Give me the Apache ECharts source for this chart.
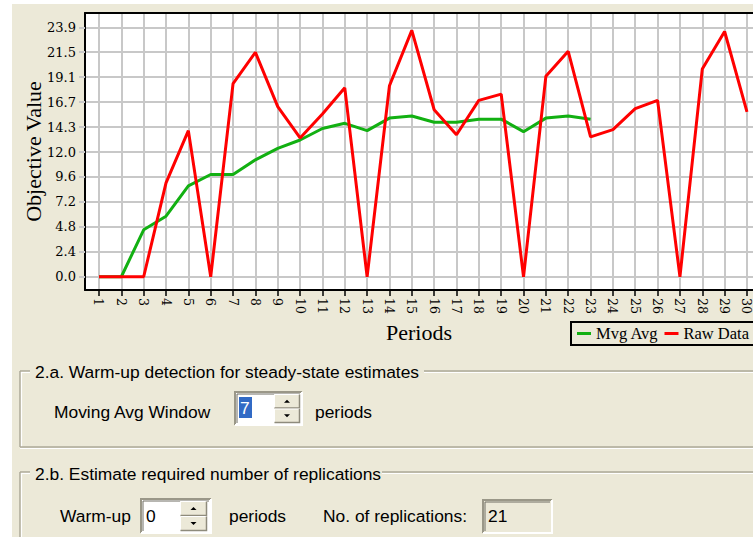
<!DOCTYPE html>
<html>
<head>
<meta charset="utf-8">
<title>Objective Value by Period</title>
<script src="https://cdn.jsdelivr.net/npm/echarts@6/dist/echarts.min.js"></script>
<style>
  html, body { margin: 0; padding: 0; background: #ECE9D8; }
  #chart { width: 753px; height: 537px; }
</style>
</head>
<body>
<div id="chart"></div>
<script>
// Period numbers on the horizontal axis
const periods = [1, 2, 3, 4, 5, 6, 7, 8, 9, 10, 11, 12, 13, 14, 15,
                 16, 17, 18, 19, 20, 21, 22, 23, 24, 25, 26, 27, 28, 29, 30];

// Raw objective value observed in each period
const rawData = [0, 0, 0, 9.0, 14.0, 0, 18.5, 21.5, 16.3, 13.3,
                 15.6, 18.1, 0, 18.3, 23.6, 16.0, 13.6, 16.9, 17.5, 0,
                 19.2, 21.6, 13.4, 14.1, 16.1, 16.9, 0, 19.9, 23.5, 15.8];

// Moving average (window of 7 periods), available up to period 23
const mvgAvg = [0, 0, 4.5, 5.8, 8.7, 9.8, 9.8, 11.2, 12.3, 13.1,
                14.2, 14.7, 14.0, 15.2, 15.4, 14.8, 14.8, 15.1, 15.1, 13.9,
                15.2, 15.4, 15.1];

// Value-axis ticks and their printed labels
const yTickValues = [0, 2.39, 4.78, 7.17, 9.56, 11.95, 14.34, 16.73, 19.12, 21.51, 23.9];
const yTickLabels = ['0.0', '2.4', '4.8', '7.2', '9.6', '12.0', '14.3', '16.7', '19.1', '21.5', '23.9'];

const seriesNames = ['Mvg Avg', 'Raw Data'];

const mvgPoints = mvgAvg.map((v, i) => [periods[i], v]);
const rawPoints = rawData.map((v, i) => [periods[i], v]);

const UI_FONT = 'Liberation Sans';
const CHART_FONT = 'Liberation Serif';
const TICK_FONT = 'DejaVu Serif';
const FACE = '#ECE9D8';

// ---------- dialog controls below the chart ----------
function line(x1, y1, x2, y2, color, w) {
  return { type: 'line', silent: true, z: 10,
    shape: { x1, y1, x2, y2 }, style: { stroke: color, lineWidth: w } };
}
// etched group-box edge: dark line with a white highlight next to it
function etchedH(x1, x2, y) {
  return [line(x1, y, x2, y, '#ACA899', 1.5), line(x1, y + 1.5, x2, y + 1.5, '#FFFFFF', 1.2)];
}
function etchedV(x, y1, y2) {
  return [line(x, y1, x, y2, '#ACA899', 1.5), line(x + 1.5, y1 + 1.5, x + 1.5, y2, '#FFFFFF', 1.2)];
}
function label(text, x, y, opts) {
  return Object.assign({ type: 'text', silent: true, z: 12, x, y,
    style: { text, fill: '#000', font: '17.4px "' + UI_FONT + '"',
             textVerticalAlign: 'middle', textAlign: 'left' } }, opts || {});
}
function sunkenBox(x1, y1, x2, y2, fill) {
  return [
    { type: 'rect', silent: true, z: 10, shape: { x: x1, y: y1, width: x2 - x1, height: y2 - y1 },
      style: { fill } },
    { type: 'polyline', silent: true, z: 11, shape: { points: [[x1, y2], [x1, y1], [x2, y1]] },
      style: { stroke: '#9A9788', lineWidth: 2, fill: null } },
    { type: 'polyline', silent: true, z: 11, shape: { points: [[x1 + 2, y2 - 2], [x1 + 2, y1 + 2], [x2 - 2, y1 + 2]] },
      style: { stroke: '#716F64', lineWidth: 1, fill: null } },
    { type: 'polyline', silent: true, z: 11, shape: { points: [[x1, y2], [x2, y2], [x2, y1]] },
      style: { stroke: '#FFFFFF', lineWidth: 2, fill: null } }
  ];
}
function spinButtons(x1, y1, x2, y2) {
  const ym = (y1 + y2) / 2, cx = (x1 + x2) / 2;
  const out = [];
  [[y1, ym], [ym, y2]].forEach(([a, b]) => {
    out.push({ type: 'rect', silent: true, z: 12, shape: { x: x1, y: a, width: x2 - x1, height: b - a },
      style: { fill: FACE } });
    out.push({ type: 'polyline', silent: true, z: 13, shape: { points: [[x1 + 0.5, b - 0.5], [x1 + 0.5, a + 0.5], [x2 - 0.5, a + 0.5]] },
      style: { stroke: '#FFFFFF', lineWidth: 1, fill: null } });
    out.push({ type: 'polyline', silent: true, z: 13, shape: { points: [[x1 + 0.5, b - 0.5], [x2 - 0.5, b - 0.5], [x2 - 0.5, a + 0.5]] },
      style: { stroke: '#8E8B7C', lineWidth: 1.5, fill: null } });
  });
  const cu = (y1 + ym) / 2, cd = (ym + y2) / 2;
  out.push({ type: 'polygon', silent: true, z: 14,
    shape: { points: [[cx - 3, cu + 1.5], [cx + 3, cu + 1.5], [cx, cu - 1.5]] }, style: { fill: '#000' } });
  out.push({ type: 'polygon', silent: true, z: 14,
    shape: { points: [[cx - 3, cd - 1.5], [cx + 3, cd - 1.5], [cx, cd + 1.5]] }, style: { fill: '#000' } });
  return out;
}

const graphics = [].concat(
  // light window frame strips
  [{ type: 'rect', silent: true, z: 1, shape: { x: 0, y: 0, width: 753, height: 4 }, style: { fill: '#FFFFFF' } },
   { type: 'rect', silent: true, z: 1, shape: { x: 0, y: 0, width: 12, height: 537 }, style: { fill: '#FFFFFF' } }],
  // group box 2.a
  etchedH(20, 30, 371), etchedH(424, 753, 371), etchedV(20, 371, 447), etchedH(20, 753, 447),
  [label('2.a. Warm-up detection for steady-state estimates', 35, 372),
   label('Moving Avg Window', 54, 412)],
  sunkenBox(235, 392, 302, 425, '#FFFFFF'),
  [{ type: 'rect', silent: true, z: 12, shape: { x: 239, y: 397, width: 13, height: 21 }, style: { fill: '#316AC5' } },
   label('7', 240, 408, { z: 13 })],
  spinButtons(274, 394, 300, 423),
  [label('periods', 315, 412)],
  // group box 2.b
  etchedH(20, 30, 472), etchedH(382, 753, 472), etchedV(20, 472, 537),
  [label('2.b. Estimate required number of replications', 35, 474),
   label('Warm-up', 60, 516)],
  sunkenBox(141, 499, 211, 533, '#FFFFFF'),
  [label('0', 146, 516)],
  spinButtons(180, 501, 207, 531),
  [label('periods', 229, 516),
   label('No. of replications:', 323, 516)],
  sunkenBox(483, 500, 552, 533, FACE),
  [label('21', 488, 516)]
);
// the highlighted digit is white on the selection colour
graphics.forEach(g => { if (g.type === 'text' && g.style.text === '7') g.style.fill = '#FFFFFF'; });

const X_MIN = 0.374, X_MAX = 30.27;
const Y_MIN = -1.27, Y_MAX = 25.27;

const option = {
  animation: false,
  backgroundColor: FACE,
  grid: {
    left: 85, top: 13, right: 0, bottom: 247,
    show: true, backgroundColor: '#FFFFFF', borderWidth: 0,
    containLabel: false, outerBoundsMode: 'none'
  },
  legend: {
    data: seriesNames,
    left: 571, top: 322, width: 240,
    padding: [3, 14, 3, 6],
    itemGap: 6, itemWidth: 14, itemHeight: 3,
    icon: 'rect',
    borderColor: '#000', borderWidth: 2,
    backgroundColor: FACE,
    textStyle: { fontFamily: CHART_FONT, fontSize: 16.5, color: '#000' }
  },
  xAxis: [{
    type: 'value', min: X_MIN, max: X_MAX, position: 'bottom',
    name: 'Periods', nameLocation: 'middle', nameGap: 30,
    nameTextStyle: { fontFamily: CHART_FONT, fontSize: 22, color: '#000' },
    axisLine: { show: true, onZero: false, lineStyle: { color: '#000', width: 2 } },
    axisTick: { show: true, customValues: periods, length: 6, lineStyle: { color: '#000', width: 1.5 } },
    axisLabel: { customValues: periods, rotate: -90, margin: 8,
                 fontFamily: TICK_FONT, fontSize: 12.5, color: '#000' },
    splitLine: { show: true, lineStyle: { color: '#C8C8C8', width: 2 } }
  }, {
    type: 'value', min: X_MIN, max: X_MAX, position: 'top',
    axisLine: { show: true, onZero: false, lineStyle: { color: '#000', width: 2 } },
    axisTick: { show: false }, axisLabel: { show: false }, splitLine: { show: false }
  }],
  yAxis: {
    type: 'value', min: Y_MIN, max: Y_MAX,
    name: 'Objective Value', nameLocation: 'middle', nameRotate: 90, nameGap: 41,
    nameMoveOverlap: false,
    nameTextStyle: { fontFamily: CHART_FONT, fontSize: 22, color: '#000' },
    axisLine: { show: true, onZero: false, lineStyle: { color: '#000', width: 2 } },
    axisTick: { show: true, customValues: yTickValues, length: 6, lineStyle: { color: '#C8C8C8', width: 2 } },
    axisLabel: {
      customValues: yTickValues, margin: 9,
      fontFamily: TICK_FONT, fontSize: 13, color: '#000',
      formatter: v => {
        const i = yTickValues.findIndex(t => Math.abs(t - v) < 1e-6);
        return i >= 0 ? yTickLabels[i] : '';
      }
    },
    splitLine: { show: true, lineStyle: { color: '#C8C8C8', width: 2 } }
  },
  series: [{
    name: seriesNames[0], type: 'line', data: mvgPoints, z: 3,
    symbol: 'none', showSymbol: false,
    lineStyle: { color: '#12B012', width: 3 }, itemStyle: { color: '#12B012' }
  }, {
    name: seriesNames[1], type: 'line', data: rawPoints, z: 4,
    symbol: 'none', showSymbol: false,
    lineStyle: { color: '#FF0000', width: 3 }, itemStyle: { color: '#FF0000' }
  }],
  graphic: graphics
};

const chart = echarts.init(document.getElementById('chart'), null, { renderer: 'svg' });
chart.setOption(option);
</script>
</body>
</html>
